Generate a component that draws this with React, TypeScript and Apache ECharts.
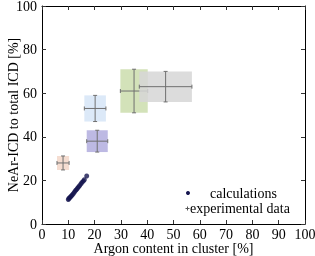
import React, { useEffect, useRef } from "react";
import * as echarts from "echarts";

// calculations (Argon %, NeAr-ICD %)
const calcX = [10.0, 10.2, 10.5, 10.8, 11.1, 11.5, 11.9, 12.3, 12.7, 13.1, 13.5, 13.9, 14.3, 14.8, 15.2, 15.7, 16.1, 17.0];
const calcY = [11.2, 11.7, 12.0, 12.4, 12.8, 13.3, 13.9, 14.6, 15.3, 15.8, 16.4, 17.0, 17.6, 18.4, 19.1, 19.7, 20.3, 22.0];

// experimental data
const expX = [8, 21, 20.2, 35, 47];
const expY = [28, 38, 53, 61, 63];
const expXErr = [2.3, 4, 4.1, 5.2, 10];
const expYErr = [3.2, 5, 6, 10, 7];
const expColors = ["#f5ddd1", "#bdb9e3", "#dce9f8", "#d3e2b9", "#d6d6d6"];
const expOpacity = [1, 1, 1, 1, 0.85];

const FONT = "'Liberation Serif', 'DejaVu Serif', serif";

export default function App() {
  const ref = useRef<HTMLDivElement>(null);
  useEffect(() => {
    const chart = echarts.init(ref.current!, null, { renderer: "svg" });
    const axisLine = { show: true, onZero: false, lineStyle: { color: "#000", width: 1 } };
    const tick = { show: true, inside: true, length: 4, lineStyle: { color: "#333" } };
    const expData = expX.map((x, i) => [x, expY[i], expXErr[i], expYErr[i], i]);
    const textStyle = { fontFamily: FONT, fontSize: 14, color: "#000" };
    chart.setOption({
      animation: false,
      textStyle: { fontFamily: FONT },
      grid: { left: 42, right: 10, top: 6, bottom: 32, outerBoundsMode: "none", containLabel: false },
      xAxis: [
        {
          type: "value", min: 0, max: 100, interval: 10, position: "bottom",
          axisLine, axisTick: tick, splitLine: { show: false },
          axisLabel: { ...textStyle, margin: 3 },
          name: "Argon content in cluster [%]", nameLocation: "middle", nameGap: 17,
          nameMoveOverlap: false,
          nameTextStyle: textStyle,
        },
        {
          type: "value", min: 0, max: 100, interval: 10, position: "top",
          axisLine, axisTick: tick, splitLine: { show: false }, axisLabel: { show: false },
        },
      ],
      yAxis: [
        {
          type: "value", min: 0, max: 100, interval: 20, position: "left",
          axisLine, axisTick: tick, splitLine: { show: false },
          axisLabel: { ...textStyle, margin: 5 },
          name: "NeAr-ICD to total ICD [%]", nameLocation: "middle", nameGap: 22,
          nameMoveOverlap: false,
          nameTextStyle: textStyle,
        },
        {
          type: "value", min: 0, max: 100, interval: 20, position: "right",
          axisLine, axisTick: tick, splitLine: { show: false }, axisLabel: { show: false },
        },
      ],
      series: [
        {
          type: "custom",
          data: expData,
          z: 2,
          renderItem: (params: any, api: any) => {
            const x = api.value(0), y = api.value(1), ex = api.value(2), ey = api.value(3);
            const i = api.value(4);
            const c = api.coord([x, y]);
            const lo = api.coord([x - ex, y - ey]);
            const hi = api.coord([x + ex, y + ey]);
            const cap = 2;
            const ls = { stroke: "#707070", lineWidth: 1 };
            return {
              type: "group",
              children: [
                { type: "rect", shape: { x: lo[0], y: hi[1], width: hi[0] - lo[0], height: lo[1] - hi[1] }, style: { fill: expColors[i], opacity: expOpacity[i] } },
                { type: "line", shape: { x1: lo[0], y1: c[1], x2: hi[0], y2: c[1] }, style: ls },
                { type: "line", shape: { x1: c[0], y1: lo[1], x2: c[0], y2: hi[1] }, style: ls },
                { type: "line", shape: { x1: lo[0], y1: c[1] - cap, x2: lo[0], y2: c[1] + cap }, style: ls },
                { type: "line", shape: { x1: hi[0], y1: c[1] - cap, x2: hi[0], y2: c[1] + cap }, style: ls },
                { type: "line", shape: { x1: c[0] - cap, y1: lo[1], x2: c[0] + cap, y2: lo[1] }, style: ls },
                { type: "line", shape: { x1: c[0] - cap, y1: hi[1], x2: c[0] + cap, y2: hi[1] }, style: ls },
              ],
            };
          },
        },
        {
          type: "scatter",
          data: calcX.map((x, i) => [x, calcY[i]]),
          symbol: "circle",
          symbolSize: 5,
          itemStyle: { color: "#15154f" },
          z: 3,
        },
      ],
      graphic: [
        { type: "circle", shape: { cx: 188, cy: 193, r: 2 }, style: { fill: "#15154f" } },
        { type: "text", left: 210, top: 186, style: { text: "calculations", fontFamily: FONT, fontSize: 14, fill: "#000" } },
        { type: "line", shape: { x1: 185.5, y1: 208.5, x2: 189.5, y2: 208.5 }, style: { stroke: "#555", lineWidth: 1 } },
        { type: "line", shape: { x1: 187.5, y1: 206.5, x2: 187.5, y2: 210.5 }, style: { stroke: "#555", lineWidth: 1 } },
        { type: "text", left: 190, top: 201, style: { text: "experimental data", fontFamily: FONT, fontSize: 14, fill: "#000" } },
      ],
    });
    return () => chart.dispose();
  }, []);
  return <div ref={ref} style={{ position: "fixed", left: 0, top: 0, width: 315, height: 256 }} />;
}
